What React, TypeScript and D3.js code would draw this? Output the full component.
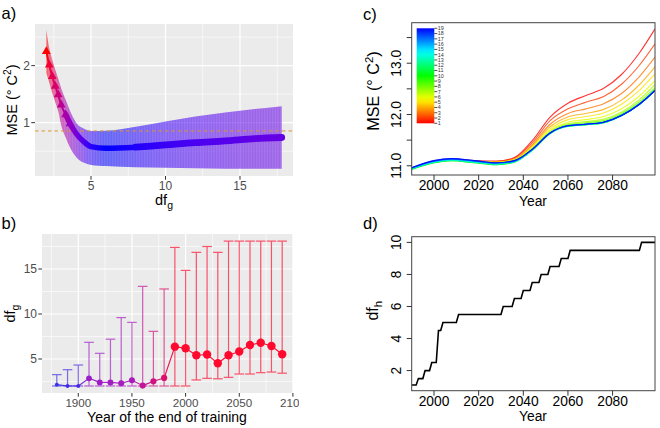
import React from 'react';
import * as d3 from 'd3';

// ---------- Panel a data ----------
const aDf = [2.0, 2.2, 2.4, 2.6, 2.8, 3.0, 3.3, 3.6, 4.0, 4.5, 5, 6, 8, 10, 12, 14, 16, 17.8];
const aMean = [2.25, 2.01, 1.81, 1.64, 1.49, 1.31, 1.14, 0.98, 0.81, 0.67, 0.58, 0.55, 0.57, 0.61, 0.65, 0.68, 0.72, 0.74];
const aUpper = [2.63, 2.3, 2.1, 1.93, 1.77, 1.6, 1.4, 1.2, 1.0, 0.9, 0.855, 0.86, 0.93, 1.02, 1.11, 1.18, 1.24, 1.29];
const aLower = [1.87, 1.7, 1.52, 1.36, 1.2, 0.95, 0.74, 0.56, 0.4, 0.3, 0.26, 0.24, 0.22, 0.21, 0.2, 0.19, 0.19, 0.19];
const aRef = 0.855;
const aXMajor = [5, 10, 15];
const aXMinor = [2.5, 7.5, 12.5, 17.5];
const aYMajor = [1, 2];
const aYMinor = [0.5, 1.5, 2.5];

// ---------- Panel b data ----------
const bYears = [1880, 1890, 1900, 1910, 1920, 1930, 1940, 1950, 1960, 1970, 1980, 1990, 2000, 2010, 2020, 2030, 2040, 2050, 2060, 2070, 2080, 2090];
const bMean = [2.15, 2.0, 2.0, 2.85, 2.4, 2.4, 2.3, 2.63, 2.04, 2.52, 2.89, 6.37, 6.2, 5.42, 5.5, 4.52, 5.42, 5.83, 6.56, 6.81, 6.44, 5.52];
const bUpper = [3.26, 3.81, 4.33, 6.85, 5.63, 7.2, 9.6, 9.07, 13.07, 8.07, 12.78, 17.4, 14.85, 16.85, 17.5, 16.85, 18.1, 18.1, 18.1, 18.1, 18.1, 18.1];
const bLower = [2.0, 2.0, 2.0, 2.0, 2.0, 2.0, 2.0, 2.0, 2.0, 2.0, 2.0, 2.0, 2.0, 2.67, 2.85, 2.8, 2.96, 3.33, 3.33, 3.48, 3.55, 3.42];
const bXMajor = [1900, 1950, 2000, 2050, 2100];
const bXMinor = [1875, 1925, 1975, 2025, 2075];
const bYMajor = [5, 10, 15];
const bYMinor = [2.5, 7.5, 12.5, 17.5];

// ---------- Panel c data ----------
const cYears = [1990, 2000, 2008, 2018, 2028, 2036, 2044, 2052, 2060, 2068, 2076, 2084, 2092, 2099];
const cLine1 = [10.95, 11.08, 11.12, 11.1, 11.09, 11.16, 11.49, 11.95, 12.22, 12.37, 12.51, 12.78, 13.2, 13.67];
const cLine2 = [10.95, 11.08, 11.12, 11.09, 11.08, 11.15, 11.45, 11.88, 12.11, 12.24, 12.35, 12.59, 12.96, 13.38];
const cLine3 = [10.95, 11.08, 11.12, 11.09, 11.08, 11.13, 11.41, 11.81, 12.02, 12.11, 12.21, 12.41, 12.74, 13.12];
const cLine4 = [10.95, 11.08, 11.12, 11.09, 11.07, 11.12, 11.39, 11.76, 11.95, 12.02, 12.1, 12.28, 12.58, 12.93];
const cLine5 = [10.95, 11.08, 11.12, 11.09, 11.07, 11.12, 11.37, 11.72, 11.9, 11.96, 12.03, 12.2, 12.47, 12.79];
const cLine6 = [10.95, 11.08, 11.12, 11.09, 11.07, 11.11, 11.35, 11.69, 11.85, 11.9, 11.96, 12.11, 12.36, 12.66];
const cLine7 = [10.94, 11.08, 11.12, 11.08, 11.06, 11.11, 11.34, 11.67, 11.82, 11.86, 11.91, 12.05, 12.29, 12.58];
const cLine8 = [10.94, 11.07, 11.11, 11.08, 11.05, 11.1, 11.33, 11.65, 11.8, 11.84, 11.88, 12.02, 12.25, 12.52];
const cLine9 = [10.94, 11.07, 11.11, 11.07, 11.04, 11.09, 11.32, 11.64, 11.79, 11.82, 11.86, 12.0, 12.22, 12.49];
const cLine10 = [10.93, 11.06, 11.1, 11.06, 11.02, 11.07, 11.3, 11.63, 11.77, 11.8, 11.84, 11.98, 12.2, 12.47];
const cLine11 = [10.93, 11.06, 11.1, 11.06, 11.02, 11.07, 11.3, 11.63, 11.77, 11.8, 11.84, 11.98, 12.2, 12.47];
const cLine12 = [10.94, 11.07, 11.11, 11.07, 11.03, 11.08, 11.31, 11.63, 11.77, 11.8, 11.84, 11.98, 12.2, 12.47];
const cLine13 = [10.94, 11.07, 11.11, 11.07, 11.03, 11.08, 11.31, 11.63, 11.77, 11.8, 11.84, 11.98, 12.2, 12.47];
const cLine14 = [10.95, 11.08, 11.12, 11.08, 11.04, 11.08, 11.31, 11.64, 11.78, 11.81, 11.85, 11.98, 12.2, 12.47];
const cLine15 = [10.95, 11.08, 11.12, 11.08, 11.04, 11.09, 11.31, 11.64, 11.78, 11.81, 11.85, 11.98, 12.2, 12.47];
const cLine16 = [10.95, 11.09, 11.13, 11.09, 11.05, 11.09, 11.32, 11.64, 11.78, 11.81, 11.85, 11.98, 12.2, 12.47];
const cLine17 = [10.96, 11.09, 11.13, 11.09, 11.05, 11.09, 11.32, 11.64, 11.78, 11.81, 11.85, 11.98, 12.2, 12.47];
const cLine18 = [10.96, 11.1, 11.14, 11.1, 11.06, 11.1, 11.32, 11.64, 11.78, 11.81, 11.85, 11.98, 12.2, 12.47];
const cLine19 = [10.96, 11.1, 11.14, 11.1, 11.06, 11.1, 11.32, 11.64, 11.78, 11.81, 11.85, 11.98, 12.2, 12.47];
const cLines = [cLine1, cLine2, cLine3, cLine4, cLine5, cLine6, cLine7, cLine8, cLine9, cLine10,
  cLine11, cLine12, cLine13, cLine14, cLine15, cLine16, cLine17, cLine18, cLine19];
const cLevels = [1, 2, 3, 4, 5, 6, 7, 8, 9, 10, 11, 12, 13, 14, 15, 16, 17, 18, 19];
const cXTicks = [2000, 2020, 2040, 2060, 2080];
const cYTicks = [11, 11.5, 12, 12.5, 13, 13.5];
const cYLabels = [11, 12, 13];

// ---------- Panel d data ----------
const dYears = [1990, 1993, 1996, 1999, 2002, 2004, 2011, 2031, 2036, 2040, 2044, 2048, 2052, 2057, 2061, 2093, 2100];
const dValues = [1.1, 1.5, 2.0, 2.5, 4.5, 5.0, 5.5, 6.0, 6.5, 7.0, 7.5, 8.0, 8.5, 9.0, 9.5, 10.0, 10.0];
const dXTicks = [2000, 2020, 2040, 2060, 2080];
const dYTicks = [2, 4, 6, 8, 10];

const FONT = "'Liberation Sans', Arial, Helvetica, sans-serif";
const GG_BG = '#EBEBEB';
const GG_TICK = '#4D4D4D';

function MSELabel({ x, y, size }: { x: number; y: number; size: number }) {
  return (
    <text transform={`translate(${x},${y}) rotate(-90)`} textAnchor="middle" fontSize={size} fill="#000">
      MSE (° C<tspan dy={-size * 0.4} fontSize={size * 0.7}>2</tspan>
      <tspan dy={size * 0.4}>)</tspan>
    </text>
  );
}

function PanelA() {
  const x = d3.scaleLinear().domain([1.24, 18.76]).range([35, 296]);
  const y = d3.scaleLinear().domain([0.065, 2.73]).range([176, 24]);
  const pts = aDf.map((d, i) => ({ d, m: aMean[i], u: aUpper[i], l: aLower[i] }));
  const color = d3.scaleLinear<string>()
    .domain([d3.min(aMean) as number, d3.max(aMean) as number])
    .range(['#0000ff', '#ff0000'])
    .interpolate(d3.interpolateLab);
  const area = d3.area<any>().x((p) => x(p.d)).y0((p) => y(p.l)).y1((p) => y(p.u)).curve(d3.curveMonotoneX);
  const line = d3.line<any>().x((p) => x(p.d)).y((p) => y(p.m)).curve(d3.curveMonotoneX);
  const x1 = x(aDf[0]);
  const x2 = x(aDf[aDf.length - 1]);
  const tri = d3.symbol().type(d3.symbolTriangle).size(34)();
  const left = pts.filter((p) => p.d <= 3.6);
  const right = pts.filter((p) => p.d >= 3.3);
  const far = pts.filter((p) => p.d >= 8);
  return (
    <g fontFamily={FONT}>
      <defs>
        <linearGradient id="gA" gradientUnits="userSpaceOnUse" x1={x1} x2={x2} y1={0} y2={0}>
          {pts.map((p, i) => (
            <stop key={i} offset={(x(p.d) - x1) / (x2 - x1)} stopColor={color(p.m)} />
          ))}
        </linearGradient>
        <pattern id="stripesA" width={1.6} height={10} patternUnits="userSpaceOnUse">
          <rect x={0} y={0} width={0.5} height={10} fill="#ffffff" opacity={0.18} />
        </pattern>
        <clipPath id="clipA">
          <rect x={35} y={24} width={258} height={152} />
        </clipPath>
      </defs>
      <rect x={35} y={24} width={258} height={152} fill={GG_BG} />
      <g clipPath="url(#clipA)">
        {aXMinor.map((v) => <line key={'xm' + v} x1={x(v)} x2={x(v)} y1={24} y2={176} stroke="#fff" strokeWidth={0.6} />)}
        {aYMinor.map((v) => <line key={'ym' + v} x1={35} x2={293} y1={y(v)} y2={y(v)} stroke="#fff" strokeWidth={0.6} />)}
        {aXMajor.map((v) => <line key={'xM' + v} x1={x(v)} x2={x(v)} y1={24} y2={176} stroke="#fff" strokeWidth={1.2} />)}
        {aYMajor.map((v) => <line key={'yM' + v} x1={35} x2={293} y1={y(v)} y2={y(v)} stroke="#fff" strokeWidth={1.2} />)}
        <path d={area(pts) as string} fill="url(#gA)" opacity={0.58} />
        <path d={area(pts) as string} fill="url(#stripesA)" />
        <line x1={35} x2={293} y1={y(aRef)} y2={y(aRef)} stroke="#D9962B" strokeWidth={1} strokeDasharray="3.5 3" />
        <path d={line(left) as string} fill="none" stroke="url(#gA)" strokeWidth={2} />
        <path d={line(right) as string} fill="none" stroke="url(#gA)" strokeWidth={5.5} strokeLinecap="round" />
        <path d={line(far) as string} fill="none" stroke="url(#gA)" strokeWidth={6.8} strokeLinecap="round" />
        {left.map((p, i) => (
          <path key={i} d={tri as string} transform={`translate(${x(p.d)},${y(p.m)})`} fill={color(p.m)} />
        ))}
      </g>
      {aXMajor.map((v) => (
        <g key={'xt' + v}>
          <line x1={x(v)} x2={x(v)} y1={176} y2={179.7} stroke="#333" strokeWidth={1} />
          <text x={x(v)} y={189.5} textAnchor="middle" fontSize={12} fill={GG_TICK}>{v}</text>
        </g>
      ))}
      {aYMajor.map((v) => (
        <g key={'yt' + v}>
          <line x1={31.3} x2={35} y1={y(v)} y2={y(v)} stroke="#333" strokeWidth={1} />
          <text x={30} y={y(v) + 4.3} textAnchor="end" fontSize={12} fill={GG_TICK}>{v}</text>
        </g>
      ))}
      <text x={164} y={204.5} textAnchor="middle" fontSize={14.5}>
        df<tspan dy={4} fontSize={10.5}>g</tspan>
      </text>
      <MSELabel x={17} y={100} size={14.5} />
      <text x={1.5} y={19} fontSize={16.5}>a)</text>
    </g>
  );
}

function PanelB() {
  const x = d3.scaleLinear().domain([1866.2, 2103.8]).range([42, 297]);
  const y = d3.scaleLinear().domain([1.22, 18.89]).range([393, 234]);
  const color = d3.scaleLinear<string>()
    .domain([1880, 1900, 1910, 1950, 1960, 1980, 1990])
    .range(['#3a2ee8', '#4a28e2', '#9a1ec8', '#a81cbc', '#c4149a', '#da106a', '#ff0a2e'])
    .interpolate(d3.interpolateLab)
    .clamp(true);
  const r = d3.scaleLinear().domain([1880, 1900, 1910, 1980, 1990]).range([1.9, 1.9, 2.9, 3.1, 4.2]).clamp(true);
  const capHalf = (x(1904.5) - x(1900));
  const pts = bYears.map((yr, i) => ({ yr, m: bMean[i], u: bUpper[i], l: bLower[i] }));
  return (
    <g fontFamily={FONT}>
      <defs>
        <clipPath id="clipB">
          <rect x={42} y={234} width={251} height={159} />
        </clipPath>
        <clipPath id="clipBLab">
          <rect x={0} y={380} width={299} height={48} />
        </clipPath>
      </defs>
      <rect x={42} y={234} width={251} height={159} fill={GG_BG} />
      <g clipPath="url(#clipB)">
        {bXMinor.map((v) => <line key={'xm' + v} x1={x(v)} x2={x(v)} y1={234} y2={393} stroke="#fff" strokeWidth={0.6} />)}
        {bYMinor.map((v) => <line key={'ym' + v} x1={42} x2={293} y1={y(v)} y2={y(v)} stroke="#fff" strokeWidth={0.6} />)}
        {bXMajor.map((v) => <line key={'xM' + v} x1={x(v)} x2={x(v)} y1={234} y2={393} stroke="#fff" strokeWidth={1.2} />)}
        {bYMajor.map((v) => <line key={'yM' + v} x1={42} x2={293} y1={y(v)} y2={y(v)} stroke="#fff" strokeWidth={1.2} />)}
        {pts.map((p, i) => (
          <g key={'eb' + i} stroke={color(p.yr)} strokeWidth={1.2} opacity={0.68}>
            <line x1={x(p.yr)} x2={x(p.yr)} y1={y(p.l)} y2={y(p.u)} />
            <line x1={x(p.yr) - capHalf} x2={x(p.yr) + capHalf} y1={y(p.u)} y2={y(p.u)} />
            <line x1={x(p.yr) - capHalf} x2={x(p.yr) + capHalf} y1={y(p.l)} y2={y(p.l)} />
          </g>
        ))}
        {pts.slice(1).map((p, i) => {
          const q = pts[i];
          return (
            <line key={'seg' + i} x1={x(q.yr)} y1={y(q.m)} x2={x(p.yr)} y2={y(p.m)}
              stroke={d3.interpolateLab(color(q.yr), color(p.yr))(0.5)} strokeWidth={1.1} />
          );
        })}
        {pts.map((p, i) => (
          <circle key={'pt' + i} cx={x(p.yr)} cy={y(p.m)} r={r(p.yr)} fill={color(p.yr)} />
        ))}
      </g>
      {bXMajor.map((v) => (
        <line key={'xtk' + v} x1={x(v)} x2={x(v)} y1={393} y2={396.7} stroke="#333" strokeWidth={1} clipPath="url(#clipBLab)" />
      ))}
      <g clipPath="url(#clipBLab)">
        {bXMajor.map((v) => (
          <text key={'xt' + v} x={x(v)} y={406.5} textAnchor="middle" fontSize={11.6} fill={GG_TICK}>{v}</text>
        ))}
      </g>
      {bYMajor.map((v) => (
        <g key={'yt' + v}>
          <line x1={38.3} x2={42} y1={y(v)} y2={y(v)} stroke="#333" strokeWidth={1} />
          <text x={37} y={y(v) + 4.3} textAnchor="end" fontSize={12} fill={GG_TICK}>{v}</text>
        </g>
      ))}
      <text x={167} y={422} textAnchor="middle" fontSize={14}>Year of the end of training</text>
      <text transform="translate(15,313.5) rotate(-90)" textAnchor="middle" fontSize={14.5}>
        df<tspan dy={4} fontSize={10.5}>g</tspan>
      </text>
      <text x={1.5} y={229} fontSize={16.5}>b)</text>
    </g>
  );
}

function PanelC() {
  const x = d3.scaleLinear().domain([1990, 2099]).range([411.7, 655]);
  const y = d3.scaleLinear().domain([10.82, 13.79]).range([175, 22.7]);
  const hue = d3.scaleLinear().domain([1, 19]).range([0, 240]);
  const col = (k: number) => d3.hsl(hue(k), 1, 0.5).formatHex();
  const line = d3.line<number>().x((_, i) => x(cYears[i])).y((v) => y(v)).curve(d3.curveMonotoneX);
  const ly = d3.scaleLinear().domain([1, 19]).range([123.3, 28.3]);
  return (
    <g fontFamily={FONT}>
      <defs>
        <clipPath id="clipC">
          <rect x={411.7} y={22.7} width={243.3} height={152.3} />
        </clipPath>
        <linearGradient id="gC" x1={0} x2={0} y1={1} y2={0}>
          {cLevels.map((k) => (
            <stop key={k} offset={(k - 1) / 18} stopColor={col(k)} />
          ))}
        </linearGradient>
      </defs>
      <g clipPath="url(#clipC)">
        {cLines.map((vals, i) => (
          <path key={i} d={line(vals) as string} fill="none" stroke={col(cLevels[i])} strokeWidth={1.1} opacity={0.8} />
        ))}
      </g>
      <rect x={411.7} y={22.7} width={243.3} height={152.3} fill="none" stroke="#444" strokeWidth={1} />
      <rect x={416.7} y={28.3} width={17.6} height={95} fill="url(#gC)" />
      {cLevels.map((k) => (
        <g key={'lg' + k}>
          <line x1={434.3} x2={437.3} y1={ly(k)} y2={ly(k)} stroke="#222" strokeWidth={0.8} />
          <text x={437.8} y={ly(k) + 1.9} fontSize={5.4} fill="#333">{k}</text>
        </g>
      ))}
      {cXTicks.map((v) => (
        <g key={'xt' + v}>
          <line x1={x(v)} x2={x(v)} y1={175} y2={180} stroke="#333" strokeWidth={1} />
          <text x={x(v)} y={190} textAnchor="middle" fontSize={13.8}>{v}</text>
        </g>
      ))}
      {cYTicks.map((v) => (
        <line key={'yt' + v} x1={406.7} x2={411.7} y1={y(v)} y2={y(v)} stroke="#333" strokeWidth={1} />
      ))}
      {cYLabels.map((v) => (
        <text key={'yl' + v} transform={`translate(400.8,${y(v)}) rotate(-90)`} textAnchor="middle" fontSize={13.8}>
          {v.toFixed(1)}
        </text>
      ))}
      <text x={533} y={206} textAnchor="middle" fontSize={13.8}>Year</text>
      <MSELabel x={379} y={91} size={16.2} />
      <text x={363} y={19.5} fontSize={16.5}>c)</text>
    </g>
  );
}

function PanelD() {
  const x = d3.scaleLinear().domain([1990, 2099]).range([411.7, 655]);
  const y = d3.scaleLinear().domain([0.744, 10.356]).range([390.7, 236.7]);
  const pts: [number, number][] = [];
  dYears.forEach((yr, i) => {
    pts.push([yr, dValues[i]]);
    if (i < dYears.length - 1) pts.push([dYears[i + 1] - 1, dValues[i]]);
  });
  const line = d3.line<[number, number]>().x((p) => x(p[0])).y((p) => y(p[1]));
  return (
    <g fontFamily={FONT}>
      <defs>
        <clipPath id="clipD">
          <rect x={411.7} y={236.7} width={243.3} height={154} />
        </clipPath>
      </defs>
      <g clipPath="url(#clipD)">
        <path d={line(pts) as string} fill="none" stroke="#000" strokeWidth={1.6} />
      </g>
      <rect x={411.7} y={236.7} width={243.3} height={154} fill="none" stroke="#444" strokeWidth={1} />
      {dXTicks.map((v) => (
        <g key={'xt' + v}>
          <line x1={x(v)} x2={x(v)} y1={390.7} y2={395.7} stroke="#333" strokeWidth={1} />
          <text x={x(v)} y={405.5} textAnchor="middle" fontSize={13.8}>{v}</text>
        </g>
      ))}
      {dYTicks.map((v) => (
        <g key={'yt' + v}>
          <line x1={406.7} x2={411.7} y1={y(v)} y2={y(v)} stroke="#333" strokeWidth={1} />
          <text transform={`translate(400.8,${y(v)}) rotate(-90)`} textAnchor="middle" fontSize={13.8}>{v}</text>
        </g>
      ))}
      <text x={533} y={421} textAnchor="middle" fontSize={13.8}>Year</text>
      <text transform="translate(378,310.7) rotate(-90)" textAnchor="middle" fontSize={16}>
        df<tspan dy={4} fontSize={11.5}>h</tspan>
      </text>
      <text x={363} y={229} fontSize={16.5}>d)</text>
    </g>
  );
}

export default function App() {
  return (
    <svg width={660} height={428} viewBox="0 0 660 428"
      style={{ position: 'absolute', left: 0, top: 0, background: '#fff', display: 'block' }}>
      <rect x={0} y={0} width={660} height={428} fill="#fff" />
      <PanelA />
      <PanelB />
      <PanelC />
      <PanelD />
    </svg>
  );
}
